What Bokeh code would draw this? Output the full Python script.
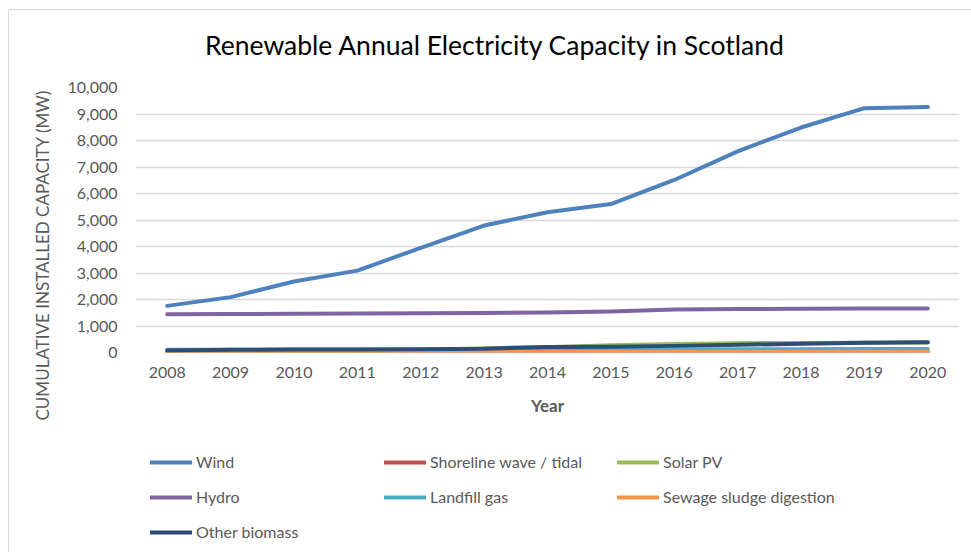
from bokeh.plotting import figure
from bokeh.layouts import column
from bokeh.embed import file_html
from bokeh.resources import INLINE
from bokeh.models import (FactorRange, Range1d, Legend, LegendItem, Title, Label,
                          NumeralTickFormatter, FixedTicker)

# ---------------- data ----------------
years = ["2008", "2009", "2010", "2011", "2012", "2013", "2014",
         "2015", "2016", "2017", "2018", "2019", "2020"]
wind = [1760, 2090, 2680, 3090, 3950, 4790, 5290, 5600, 6510, 7590, 8490, 9220, 9260]
shoreline_wave_tidal = [1, 1, 2, 3, 4, 6, 8, 10, 12, 15, 18, 20, 20]
solar_pv = [0, 2, 5, 30, 90, 160, 200, 270, 320, 350, 360, 370, 380]
hydro = [1445, 1450, 1460, 1475, 1485, 1495, 1505, 1550, 1620, 1640, 1650, 1660, 1665]
landfill_gas = [100, 105, 110, 115, 115, 115, 115, 115, 115, 120, 125, 130, 130]
sewage_sludge = [10, 15, 20, 20, 25, 25, 25, 30, 30, 30, 30, 30, 30]
other_biomass = [80, 100, 110, 115, 125, 140, 210, 220, 250, 290, 330, 370, 385]
y_ticks = list(range(0, 10001, 1000))

series = [
    ("Wind", wind, "#4F81BD"),
    ("Shoreline wave / tidal", shoreline_wave_tidal, "#C0504D"),
    ("Solar PV", solar_pv, "#9BBB59"),
    ("Hydro", hydro, "#8064A2"),
    ("Landfill gas", landfill_gas, "#4BACC6"),
    ("Sewage sludge digestion", sewage_sludge, "#F79646"),
    ("Other biomass", other_biomass, "#2C4D75"),
]
legend_columns = [
    ["Wind", "Hydro", "Other biomass"],
    ["Shoreline wave / tidal", "Landfill gas"],
    ["Solar PV", "Sewage sludge digestion"],
]

FONT = "Lato"
GREY = "#595959"

# ---------------- title strip ----------------
t = figure(width=962, height=60, x_range=Range1d(0, 1), y_range=Range1d(0, 1),
           output_backend="svg", toolbar_location=None,
           min_border=0, min_border_left=0, min_border_right=0,
           min_border_top=0, min_border_bottom=0)
t.axis.visible = False
t.grid.visible = False
t.outline_line_color = None
t.background_fill_color = "white"
t.border_fill_color = "white"
t.add_layout(Label(x=360, y=26, x_units="screen", y_units="screen",
                   text="Renewable Annual Electricity Capacity in Scotland",
                   text_font=FONT, text_font_size="26.5px", text_color="#000000",
                   text_align="center", text_baseline="middle"))

# ---------------- main chart ----------------
p = figure(x_range=FactorRange(*years, range_padding=0),
           y_range=Range1d(0, 10000),
           width=962, height=355, title=None,
           output_backend="svg", toolbar_location=None,
           min_border_left=126, min_border_right=12,
           min_border_top=17, min_border_bottom=73)
p.outline_line_color = None
p.background_fill_color = "white"
p.border_fill_color = "white"

p.xgrid.grid_line_color = None
p.ygrid.grid_line_color = "#d9d9d9"
p.ygrid.grid_line_width = 1.3
p.yaxis.ticker = FixedTicker(ticks=y_ticks)
p.yaxis.formatter = NumeralTickFormatter(format="0,0")

for ax in (p.xaxis[0], p.yaxis[0]):
    ax.axis_line_color = None
    ax.major_tick_line_color = None
    ax.minor_tick_line_color = None
    ax.major_tick_out = 0
    ax.major_tick_in = 0
    ax.major_label_text_font = FONT
    ax.major_label_text_font_size = "16px"
    ax.major_label_text_color = GREY
p.yaxis.major_label_standoff = 18
p.xaxis.major_label_standoff = 14
p.xaxis.axis_label = "Year"
p.xaxis.axis_label_text_font = FONT
p.xaxis.axis_label_text_font_size = "17px"
p.xaxis.axis_label_text_font_style = "bold"
p.xaxis.axis_label_text_color = GREY
p.xaxis.axis_label_standoff = 14

ytitle = Title(text="CUMULATIVE INSTALLED CAPACITY (MW)", align="left", offset=-68,
               text_font=FONT, text_font_size="17px", text_font_style="normal",
               text_color=GREY, standoff=23)
p.add_layout(ytitle, "left")

for name, vals, color in series:
    p.line(x=years, y=vals, line_color=color, line_width=4,
           line_cap="round", line_join="round")

# ---------------- legend strip ----------------
# the same series drawn outside this strip's visible range, only to feed the legend
q = figure(width=962, height=127, x_range=FactorRange(*years, range_padding=0),
           y_range=Range1d(-2, -1),
           output_backend="svg", toolbar_location=None,
           min_border=0, min_border_left=0, min_border_right=0,
           min_border_top=0, min_border_bottom=0)
q.axis.visible = False
q.grid.visible = False
q.outline_line_color = None
q.background_fill_color = "white"
q.border_fill_color = "white"

legend_renderers = {}
for name, vals, color in series:
    legend_renderers[name] = q.line(x=years, y=vals, line_color=color, line_width=4,
                                    line_cap="round")

col_x = [15, 249, 482]
for names, vx in zip(legend_columns, col_x):
    n = len(names)
    bottom = 24.7 + n * 24 + (n - 1) * 11
    lg = Legend(items=[LegendItem(label=nm, renderers=[legend_renderers[nm]]) for nm in names],
                location=(vx, 127 - bottom), orientation="vertical")
    lg.margin = 0
    lg.padding = 0
    lg.border_line_color = None
    lg.background_fill_alpha = 0
    lg.glyph_width = 42
    lg.glyph_height = 24
    lg.label_height = 24
    lg.spacing = 11
    lg.label_standoff = 4
    lg.label_text_font = FONT
    lg.label_text_font_size = "16px"
    lg.label_text_color = GREY
    q.add_layout(lg, "center")

layout = column(t, p, q, spacing=0)
layout.margin = (9, 0, 0, 8)
layout.styles = {"border-top": "1px solid #d9d9d9", "border-left": "1px solid #d9d9d9"}

open("out.html", "w").write(file_html(layout, INLINE))
